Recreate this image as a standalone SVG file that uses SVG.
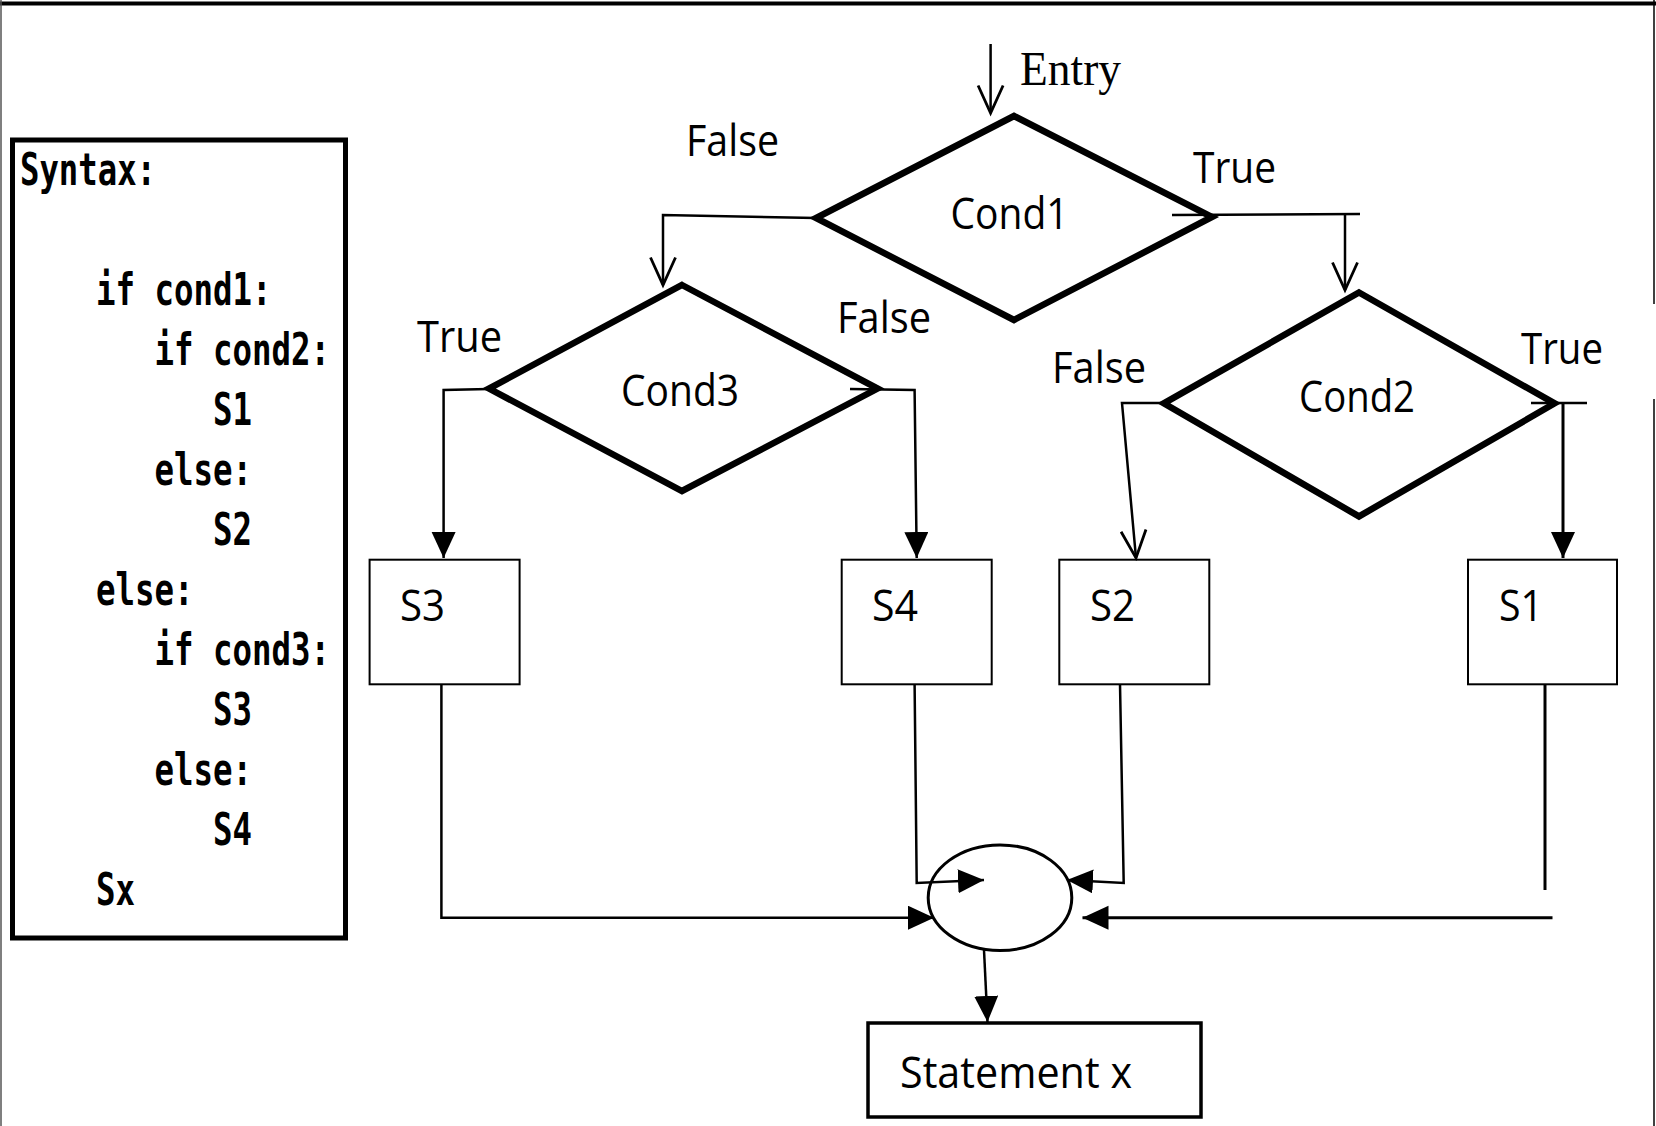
<svg xmlns="http://www.w3.org/2000/svg" width="1656" height="1126" viewBox="0 0 1656 1126">
  <style>
    .lbl { font-family: "Open Sans", "Noto Sans", sans-serif; font-size: 44px; fill: #000; }
    .code { font-family: "DejaVu Sans Mono", "Liberation Mono", monospace; font-weight: bold; font-size: 44px; fill: #000; }
    .entry { font-family: "Liberation Serif", serif; font-size: 48px; fill: #000; }
    .dia { fill: #fff; stroke: #000; stroke-width: 6.5; stroke-linejoin: miter; }
    .box { fill: #fff; stroke: #000; stroke-width: 2; }
    .wire { fill: none; stroke: #000; stroke-width: 2.5; }
    .wire.heavy { stroke-width: 3; }
  </style>
  <defs>
    <marker id="tri" markerUnits="userSpaceOnUse" markerWidth="28" markerHeight="26" refX="26" refY="12" orient="auto">
      <path d="M0,0 L26,12 L0,24 Z" fill="#000"/>
    </marker>
    <marker id="vee" markerUnits="userSpaceOnUse" markerWidth="34" markerHeight="32" refX="29" refY="14" orient="auto">
      <path d="M1.5,1.5 L29,14 L1.5,26.5" fill="none" stroke="#000" stroke-width="2.8"/>
    </marker>
  </defs>

  <rect width="1656" height="1126" fill="#fff"/>

  <!-- page frame -->
  <g id="frame" fill="none" stroke="#000">
    <line x1="0" y1="3.5" x2="1656" y2="3.5" stroke-width="4"/>
    <line x1="1" y1="0" x2="1" y2="1126" stroke="#555" stroke-width="1.5"/>
    <line x1="1654" y1="0" x2="1654" y2="304" stroke-width="1.5"/>
    <line x1="1654" y1="399" x2="1654" y2="1126" stroke-width="1.5"/>
  </g>

  <!-- syntax listing -->
  <g id="syntax">
    <rect x="12.5" y="140" width="333" height="798" fill="#fff" stroke="#000" stroke-width="5"/>
    <text class="code" x="20" y="185" textLength="136" lengthAdjust="spacingAndGlyphs">Syntax:</text>
    <text class="code" x="96" y="304.6" textLength="175.5" lengthAdjust="spacingAndGlyphs">if cond1:</text>
    <text class="code" x="154.5" y="364.6" textLength="175.5" lengthAdjust="spacingAndGlyphs">if cond2:</text>
    <text class="code" x="213" y="424.6" textLength="39" lengthAdjust="spacingAndGlyphs">S1</text>
    <text class="code" x="154.5" y="484.6" textLength="97.5" lengthAdjust="spacingAndGlyphs">else:</text>
    <text class="code" x="213" y="544.6" textLength="39" lengthAdjust="spacingAndGlyphs">S2</text>
    <text class="code" x="96" y="604.6" textLength="97.5" lengthAdjust="spacingAndGlyphs">else:</text>
    <text class="code" x="154.5" y="664.6" textLength="175.5" lengthAdjust="spacingAndGlyphs">if cond3:</text>
    <text class="code" x="213" y="724.6" textLength="39" lengthAdjust="spacingAndGlyphs">S3</text>
    <text class="code" x="154.5" y="784.6" textLength="97.5" lengthAdjust="spacingAndGlyphs">else:</text>
    <text class="code" x="213" y="844.6" textLength="39" lengthAdjust="spacingAndGlyphs">S4</text>
    <text class="code" x="96" y="904.6" textLength="39" lengthAdjust="spacingAndGlyphs">Sx</text>
  </g>

  <g id="entry">
    <text class="entry" x="1020" y="84.5" textLength="101" lengthAdjust="spacingAndGlyphs">Entry</text>
  </g>

  <g id="cond1">
    <polygon class="dia" points="1014,116 1212,217 1014,320 816,218"/>
    <text class="lbl" x="950.5" y="229" textLength="118" lengthAdjust="spacingAndGlyphs">Cond1</text>
  </g>

  <g id="cond3">
    <polygon class="dia" points="682,285 877.6,388.6 682,491 489,388.6"/>
    <text class="lbl" x="621" y="406" textLength="118" lengthAdjust="spacingAndGlyphs">Cond3</text>
  </g>

  <g id="cond2">
    <polygon class="dia" points="1359,292.5 1554.6,403.4 1359,516.4 1163.8,403.4"/>
    <text class="lbl" x="1299" y="412" textLength="116" lengthAdjust="spacingAndGlyphs">Cond2</text>
  </g>

  <g id="s3">
    <rect class="box" x="369.6" y="559.7" width="150" height="124.6"/>
    <text class="lbl" x="400" y="621" textLength="45" lengthAdjust="spacingAndGlyphs">S3</text>
  </g>
  <g id="s4">
    <rect class="box" x="841.7" y="559.7" width="150" height="124.6"/>
    <text class="lbl" x="872" y="621" textLength="46" lengthAdjust="spacingAndGlyphs">S4</text>
  </g>
  <g id="s2">
    <rect class="box" x="1059.3" y="559.7" width="150" height="124.6"/>
    <text class="lbl" x="1090" y="621" textLength="45" lengthAdjust="spacingAndGlyphs">S2</text>
  </g>
  <g id="s1">
    <rect class="box" x="1468" y="559.7" width="149" height="124.6"/>
    <text class="lbl" x="1499" y="621" textLength="44" lengthAdjust="spacingAndGlyphs">S1</text>
  </g>

  <g id="join">
    <ellipse cx="1000" cy="897.7" rx="71.8" ry="52.8" fill="none" stroke="#000" stroke-width="3"/>
  </g>

  <g id="statement-x">
    <rect x="868" y="1023" width="333" height="94" fill="#fff" stroke="#000" stroke-width="3.5"/>
    <text class="lbl" x="900" y="1088" font-size="47" textLength="232" lengthAdjust="spacingAndGlyphs">Statement x</text>
  </g>

  <!-- branch labels -->
  <g id="branch-labels">
    <text class="lbl" x="686" y="156" textLength="93" lengthAdjust="spacingAndGlyphs">False</text>
    <text class="lbl" x="1193" y="183" textLength="83" lengthAdjust="spacingAndGlyphs">True</text>
    <text class="lbl" x="417" y="352" textLength="85" lengthAdjust="spacingAndGlyphs">True</text>
    <text class="lbl" x="837" y="333" textLength="94" lengthAdjust="spacingAndGlyphs">False</text>
    <text class="lbl" x="1052" y="383" textLength="94" lengthAdjust="spacingAndGlyphs">False</text>
    <text class="lbl" x="1521" y="364" textLength="82" lengthAdjust="spacingAndGlyphs">True</text>
  </g>

  <!-- connectors -->
  <g id="connectors">
    <path class="wire" d="M990.6,44 L990.6,113" marker-end="url(#vee)"/>
    <path class="wire" d="M816,218 L663,215 L663,285" marker-end="url(#vee)"/>
    <path class="wire" d="M1172,215 L1360,214"/>
    <path class="wire" d="M1345,214 L1345,290" marker-end="url(#vee)"/>
    <path class="wire" d="M489,389 L443.6,390 L443.6,558" marker-end="url(#tri)"/>
    <path class="wire" d="M850,389 L914.6,390 L916.7,558" marker-end="url(#tri)"/>
    <path class="wire" d="M1164,403 L1122,403 L1136,558" marker-end="url(#vee)"/>
    <path class="wire" d="M1531,403 L1587,403"/>
    <path class="wire heavy" d="M1563,403 L1563,558" marker-end="url(#tri)"/>
    <path class="wire" d="M441.4,684 L441.4,917.7 L934,917.7" marker-end="url(#tri)"/>
    <path class="wire" d="M914.6,684 L916.7,883 L984,880" marker-end="url(#tri)"/>
    <path class="wire" d="M1120,684 L1123.7,883 L1067,880" marker-end="url(#tri)"/>
    <path class="wire heavy" d="M1545,684 L1545,890"/>
    <path class="wire heavy" d="M1552.5,917.7 L1082.5,917.7" marker-end="url(#tri)"/>
    <path class="wire" d="M984,950 L987.5,1022" marker-end="url(#tri)"/>
  </g>
</svg>
